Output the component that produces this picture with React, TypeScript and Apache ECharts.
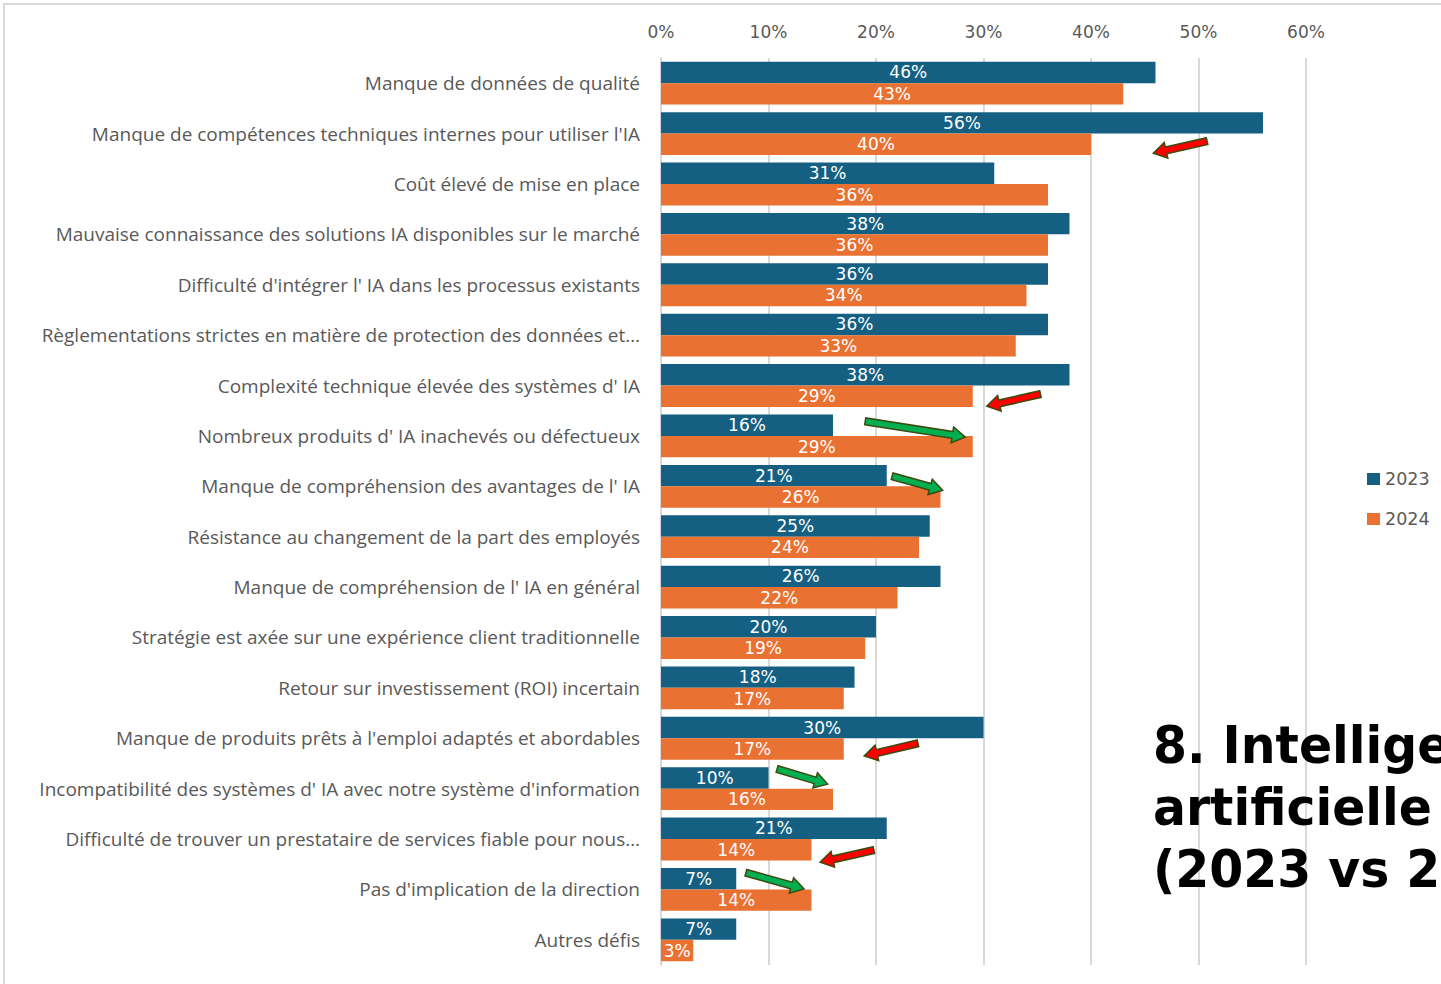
import React, { useEffect, useRef } from "react";
import * as echarts from "echarts";

const categories = [
  "Manque de données de qualité",
  "Manque de compétences techniques internes pour utiliser l'IA",
  "Coût élevé de mise en place",
  "Mauvaise connaissance des solutions IA disponibles sur le marché",
  "Difficulté d'intégrer l' IA dans les processus existants",
  "Règlementations strictes en matière de protection des données et…",
  "Complexité technique élevée des systèmes d' IA",
  "Nombreux produits d' IA inachevés ou défectueux",
  "Manque de compréhension des avantages de l' IA",
  "Résistance au changement de la part des employés",
  "Manque de compréhension de l' IA en général",
  "Stratégie est axée sur une expérience client traditionnelle",
  "Retour sur investissement (ROI) incertain",
  "Manque de produits prêts à l'emploi adaptés et abordables",
  "Incompatibilité des systèmes d' IA avec notre système d'information",
  "Difficulté de trouver un prestataire de services fiable pour nous…",
  "Pas d'implication de la direction",
  "Autres défis",
];

const values2023 = [46, 56, 31, 38, 36, 36, 38, 16, 21, 25, 26, 20, 18, 30, 10, 21, 7, 7];
const values2024 = [43, 40, 36, 36, 34, 33, 29, 29, 26, 24, 22, 19, 17, 17, 16, 14, 14, 3];

const xTicks = [0, 10, 20, 30, 40, 50, 60];

const titleLines = ["8. Intelligence", "artificielle", "(2023 vs 2024)"];

// annotation arrows: [x% start, category position start, x% end, category position end, kind]
const arrows: [number, number, number, number, "up" | "down"][] = [
  [50.8, 1.15, 45.8, 1.39, "down"],
  [35.3, 6.17, 30.3, 6.41, "down"],
  [19.0, 6.71, 28.3, 7.02, "up"],
  [21.5, 7.8, 26.2, 8.08, "up"],
  [23.9, 13.1, 18.9, 13.35, "down"],
  [10.8, 13.61, 15.5, 13.91, "up"],
  [19.8, 15.22, 14.8, 15.46, "down"],
  [7.9, 15.67, 13.3, 15.99, "up"],
];

const BLUE = "#156082";
const ORANGE = "#E97132";
const GRAY_TEXT = "#595959";
const FONT = "Open Sans";
const NUM_FONT = "DejaVu Sans";

function arrowPoints(x1: number, y1: number, x2: number, y2: number) {
  const dx = x2 - x1;
  const dy = y2 - y1;
  const len = Math.sqrt(dx * dx + dy * dy);
  const ux = dx / len;
  const uy = dy / len;
  const nx = -uy;
  const ny = ux;
  const w = 3.4;
  const h = 8;
  const L = 13;
  const bx = x2 - ux * L;
  const by = y2 - uy * L;
  return [
    [x1 + nx * w, y1 + ny * w],
    [bx + nx * w, by + ny * w],
    [bx + nx * h, by + ny * h],
    [x2, y2],
    [bx - nx * h, by - ny * h],
    [bx - nx * w, by - ny * w],
    [x1 - nx * w, y1 - ny * w],
  ];
}

export default function App() {
  const ref = useRef<HTMLDivElement>(null);

  useEffect(() => {
    if (!ref.current) return;
    const chart = echarts.init(ref.current, undefined, { renderer: "svg" });
    const barLabel = {
      show: true,
      position: "inside",
      color: "#ffffff",
      fontSize: 17,
      fontFamily: NUM_FONT,
      formatter: "{c}%",
    };
    chart.setOption({
      animation: false,
      backgroundColor: "#ffffff",
      grid: { left: 661, right: 135, top: 58, bottom: 19, containLabel: false },
      legend: {
        orient: "vertical",
        left: 1362,
        top: 465,
        itemWidth: 13,
        itemHeight: 12,
        itemGap: 22,
        icon: "rect",
        textStyle: { color: GRAY_TEXT, fontSize: 17.5, fontFamily: NUM_FONT },
        data: ["2023", "2024"],
      },
      xAxis: {
        type: "value",
        position: "top",
        min: 0,
        max: 60,
        interval: 10,
        axisLine: { show: false },
        axisTick: { show: false },
        axisLabel: {
          color: GRAY_TEXT,
          fontSize: 17,
          fontFamily: NUM_FONT,
          margin: 18,
          formatter: (v: number) => (xTicks.includes(v) ? v + "%" : ""),
        },
        splitLine: { show: true, lineStyle: { color: "#D9D9D9", width: 2 } },
      },
      yAxis: {
        type: "category",
        inverse: true,
        data: categories,
        axisLine: { show: true, lineStyle: { color: "#D9D9D9", width: 2 } },
        axisTick: { show: false },
        axisLabel: {
          color: GRAY_TEXT,
          fontSize: 19,
          fontFamily: FONT,
          margin: 21,
        },
      },
      series: [
        {
          name: "2023",
          type: "bar",
          data: values2023,
          barGap: "0%",
          barCategoryGap: "15%",
          itemStyle: { color: BLUE },
          label: barLabel,
        },
        {
          name: "2024",
          type: "bar",
          data: values2024,
          barGap: "0%",
          barCategoryGap: "15%",
          itemStyle: { color: ORANGE },
          label: barLabel,
        },
      ],
    });

    const y0 = chart.convertToPixel({ yAxisIndex: 0 }, 0) as number;
    const y1 = chart.convertToPixel({ yAxisIndex: 0 }, 1) as number;
    const band = y1 - y0;
    const toPx = (xv: number, cp: number) => [
      chart.convertToPixel({ xAxisIndex: 0 }, xv) as number,
      y0 + cp * band,
    ];

    const arrowGraphics = arrows.map((a) => {
      const [sx, sy] = toPx(a[0], a[1]);
      const [ex, ey] = toPx(a[2], a[3]);
      return {
        type: "polygon",
        z: 100,
        shape: { points: arrowPoints(sx, sy, ex, ey) },
        style: {
          fill: a[4] === "up" ? "#00B050" : "#FF0000",
          stroke: "#3D4A10",
          lineWidth: 1.5,
        },
      };
    });

    chart.setOption({
      graphic: [
        {
          type: "rect",
          z: -10,
          shape: { x: 4, y: 4, width: 1600, height: 1200 },
          style: { fill: "none", stroke: "#D9D9D9", lineWidth: 2 },
        },
        ...arrowGraphics,
        {
          type: "text",
          z: 120,
          x: 1153,
          y: 714,
          scaleX: 0.94,
          style: {
            text: titleLines.join("\n"),
            fill: "#000000",
            font: 'bold 52px "DejaVu Sans"',
            lineHeight: 62,
          },
        },
      ],
    });

    return () => chart.dispose();
  }, []);

  return (
    <div
      ref={ref}
      style={{ position: "absolute", left: 0, top: 0, width: 1441, height: 984 }}
    />
  );
}
